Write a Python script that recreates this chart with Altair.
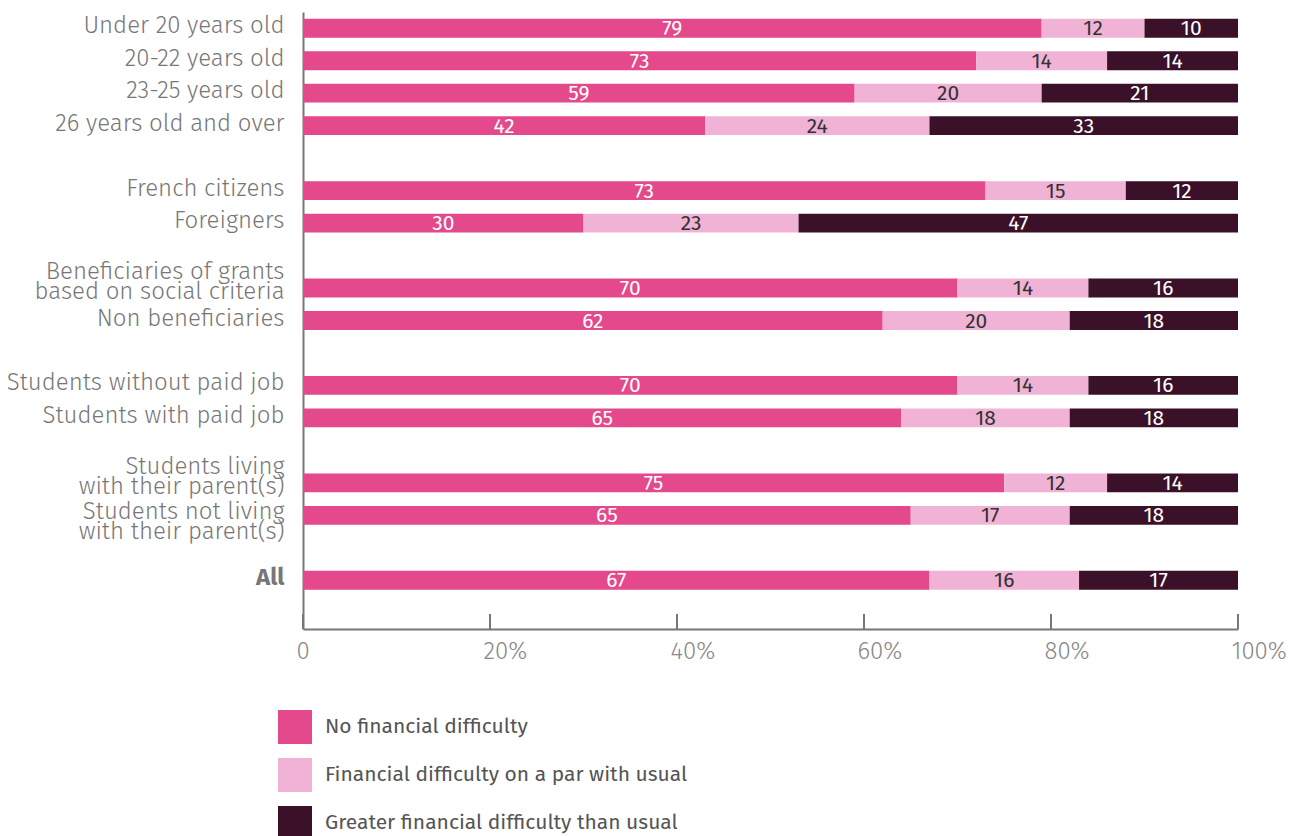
import altair as alt
import pandas as pd

# Row layout (gap rows separate the groups)
rows = [
    "Under 20 years old", "20-22 years old", "23-25 years old", "26 years old and over", "gap1",
    "French citizens", "Foreigners", "gap2",
    "Beneficiaries of grants|based on social criteria", "Non beneficiaries", "gap3",
    "Students without paid job", "Students with paid job", "gap4",
    "Students living|with their parent(s)", "Students not living|with their parent(s)", "gap5",
    "All", "gap6",
]
categories = [r for r in rows if not r.startswith("gap")]

# Segment shares (%) as drawn
no_diff = [79, 72, 59, 43, 73, 30, 70, 62, 70, 64, 75, 65, 67]
par_diff = [11, 14, 20, 24, 15, 23, 14, 20, 14, 18, 11, 17, 16]
greater_diff = [10, 14, 21, 33, 12, 47, 16, 18, 16, 18, 14, 18, 17]

# Numbers printed on the segments
no_diff_lbl = [79, 73, 59, 42, 73, 30, 70, 62, 70, 65, 75, 65, 67]
par_diff_lbl = [12, 14, 20, 24, 15, 23, 14, 20, 14, 18, 12, 17, 16]
greater_diff_lbl = [10, 14, 21, 33, 12, 47, 16, 18, 16, 18, 14, 18, 17]

series = [
    "No financial difficulty",
    "Financial difficulty on a par with usual",
    "Greater financial difficulty than usual",
]
colors = ["#E3498B", "#F0B3D5", "#3A1129"]
x_ticks = [0, 0.2, 0.4, 0.6, 0.8, 1.0]

records = []
for i, c in enumerate(categories):
    for j, (s, vals, lbls) in enumerate(zip(
            series,
            [no_diff, par_diff, greater_diff],
            [no_diff_lbl, par_diff_lbl, greater_diff_lbl])):
        records.append({"row": c, "series": s, "order": j, "value": vals[i], "label": lbls[i]})
df = pd.DataFrame(records)

FONT = "Fira Sans, Open Sans, sans-serif"
W, H = 935, 617

base = alt.Chart(df).transform_stack(
    stack="value", groupby=["row"], as_=["x0", "x1"], offset="normalize",
    sort=[alt.SortField("order")]
).transform_calculate(mid="(datum.x0 + datum.x1) / 2")

y_enc = alt.Y(
    "row:N",
    title=None,
    scale=alt.Scale(domain=rows, paddingInner=0.42, paddingOuter=0.21),
    axis=alt.Axis(
        labelExpr="indexof(datum.value, 'gap') == 0 ? '' : split(datum.value, '|')",
        ticks=False, tickSize=0, labelPadding=19,
        labelFont=FONT, labelFontSize=24, labelColor="#777777",
        labelLineHeight=20, labelLimit=400, labelBaseline="middle",
        labelFontWeight={"condition": {"test": "datum.value == 'All'", "value": "bold"}, "value": 300},
        labelOffset={"condition": [
            {"test": "datum.value == 'Students not living|with their parent(s)'", "value": -3},
            {"test": "indexof(datum.value, '|') >= 0", "value": -16},
        ], "value": -2},
        domainColor="#777777", domainWidth=2, grid=False,
    ),
)

x_scale = alt.Scale(domain=[0, 1], nice=False)

bars = base.mark_bar().encode(
    x=alt.X(
        "x0:Q", scale=x_scale, title=None,
        axis=alt.Axis(
            values=x_ticks, ticks=False, tickSize=0, labelPadding=10,
            labelAlign="left", labelFlush=False, labelOffset=-7,
            labelExpr="datum.value == 0 ? '0' : format(datum.value, '.0%')",
            labelFont=FONT, labelFontSize=24, labelColor="#888888", labelFontWeight=300,
            domainColor="#777777", domainWidth=2, grid=False,
        ),
    ),
    x2="x1:Q",
    y=y_enc,
    color=alt.Color(
        "series:N",
        scale=alt.Scale(domain=series, range=colors),
        legend=alt.Legend(
            title=None, orient="none", legendX=-25, legendY=698,
            symbolType="square", symbolSize=1156, symbolStrokeWidth=0, symbolOpacity=1,
            labelFont=FONT, labelFontSize=21, labelColor="#555555", labelOffset=13,
            rowPadding=14, padding=0, labelLimit=600,
        ),
    ),
    order=alt.Order("order:Q"),
)

labels = base.mark_text(font=FONT, fontSize=21, baseline="middle", dy=1).encode(
    x=alt.X("mid:Q", scale=x_scale),
    y=alt.Y("row:N", scale=alt.Scale(domain=rows)),
    text=alt.Text("label:Q"),
    color=alt.condition("datum.order == 1", alt.value("#333333"), alt.value("#ffffff")),
)

ticks = alt.Chart(pd.DataFrame({"t": x_ticks})).mark_rule(color="#777777", strokeWidth=2).encode(
    x=alt.X("t:Q", scale=x_scale),
    y=alt.value(H - 15),
    y2=alt.value(H),
)

chart = alt.layer(bars, labels, ticks).properties(
    width=W, height=H,
    padding={"left": 295, "top": 4, "right": 48, "bottom": 220},
    autosize=alt.AutoSizeParams(type="none"),
).configure_view(stroke=None)

chart.save("out.html", embed_options={"renderer": "svg", "actions": False})
